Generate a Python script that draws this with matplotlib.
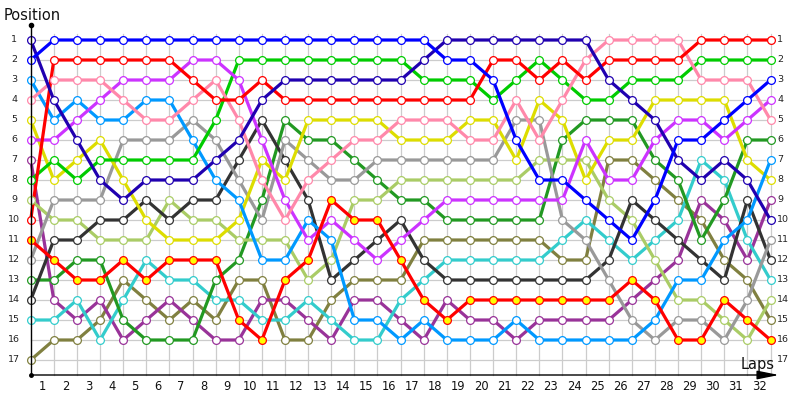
import matplotlib
matplotlib.use('Agg')
import matplotlib.pyplot as plt

# position of each driver after every lap (index 0 = grid)
laps = list(range(0, 33))
navy = [1, 4, 6, 8, 9, 8, 8, 8, 7, 6, 4, 3, 3, 3, 3, 3, 3, 2, 1, 1, 1, 1, 1, 1, 1, 3, 4, 5, 7, 8, 7, 8, 10]
blue = [2, 1, 1, 1, 1, 1, 1, 1, 1, 1, 1, 1, 1, 1, 1, 1, 1, 1, 2, 2, 3, 6, 8, 8, 9, 10, 11, 9, 6, 6, 5, 4, 3]
red = [10, 2, 2, 2, 2, 2, 2, 3, 4, 4, 3, 4, 4, 4, 4, 4, 4, 4, 4, 4, 2, 2, 3, 2, 3, 2, 2, 2, 2, 1, 1, 1, 1]
red_yellow = [11, 12, 13, 13, 12, 13, 12, 12, 12, 15, 16, 13, 12, 9, 10, 10, 12, 14, 15, 14, 14, 14, 14, 14, 14, 14, 13, 14, 16, 16, 14, 15, 16]
pink = [4, 3, 3, 3, 4, 5, 5, 4, 3, 5, 8, 10, 8, 7, 6, 6, 5, 5, 5, 6, 6, 4, 6, 4, 2, 1, 1, 1, 1, 3, 3, 3, 5]
violet = [6, 6, 5, 4, 3, 3, 3, 2, 2, 3, 6, 9, 11, 10, 11, 12, 11, 10, 9, 9, 9, 9, 9, 9, 6, 8, 8, 6, 5, 5, 6, 5, 4]
green = [8, 7, 8, 7, 7, 7, 7, 7, 5, 2, 2, 2, 2, 2, 2, 2, 2, 3, 3, 3, 4, 3, 2, 3, 4, 4, 3, 3, 3, 2, 2, 2, 2]
sky = [3, 5, 4, 5, 5, 4, 4, 6, 8, 9, 12, 12, 10, 11, 15, 15, 16, 15, 16, 16, 16, 15, 16, 16, 16, 16, 16, 15, 13, 13, 11, 10, 7]
yellow = [5, 8, 7, 6, 8, 10, 11, 11, 11, 10, 7, 8, 5, 5, 5, 5, 6, 6, 6, 5, 5, 7, 4, 5, 8, 6, 6, 4, 4, 4, 4, 7, 8]
gray = [12, 9, 9, 9, 6, 6, 6, 5, 6, 8, 10, 6, 7, 8, 8, 7, 7, 7, 7, 7, 7, 5, 5, 10, 11, 13, 15, 16, 15, 15, 16, 14, 11]
black = [14, 11, 11, 10, 10, 9, 10, 9, 9, 7, 5, 7, 9, 13, 12, 11, 10, 12, 13, 13, 13, 13, 13, 13, 13, 12, 9, 10, 11, 12, 13, 9, 12]
light_green = [9, 10, 10, 11, 11, 11, 9, 10, 10, 11, 11, 11, 13, 12, 9, 9, 8, 8, 8, 8, 8, 8, 7, 7, 7, 9, 10, 12, 14, 14, 15, 16, 14]
dark_green = [13, 13, 12, 12, 15, 16, 16, 16, 13, 12, 9, 5, 6, 6, 7, 8, 9, 9, 10, 10, 10, 10, 10, 6, 5, 5, 5, 7, 8, 11, 9, 6, 6]
teal = [15, 15, 14, 16, 14, 12, 13, 13, 14, 14, 15, 15, 14, 15, 16, 16, 14, 13, 12, 12, 12, 12, 12, 11, 10, 11, 12, 11, 10, 7, 8, 11, 13]
olive = [17, 16, 16, 15, 13, 14, 15, 14, 15, 13, 13, 16, 16, 14, 13, 13, 13, 11, 11, 11, 11, 11, 11, 12, 12, 7, 7, 8, 9, 10, 12, 13, 15]
plum = [7, 14, 15, 14, 16, 15, 14, 15, 16, 16, 14, 14, 15, 16, 14, 14, 15, 16, 14, 15, 15, 16, 15, 15, 15, 15, 14, 13, 12, 9, 10, 12, 9]

series = [
    (olive, '#808040', 'white'),
    (plum, '#993399', 'white'),
    (teal, '#33cccc', 'white'),
    (dark_green, '#229922', 'white'),
    (light_green, '#aacc66', 'white'),
    (black, '#333333', 'white'),
    (gray, '#999999', 'white'),
    (yellow, '#dddd00', 'white'),
    (sky, '#0099ff', 'white'),
    (green, '#00cc00', 'white'),
    (violet, '#cc33ff', 'white'),
    (pink, '#ff88aa', 'white'),
    (red_yellow, '#ff0000', '#ffff00'),
    (red, '#ff0000', 'white'),
    (navy, '#2000b0', 'white'),
    (blue, '#0000ff', 'white'),
]

n_pos = 17
n_laps = 32

fig = plt.figure(figsize=(8, 4), dpi=100)
ax = fig.add_axes([0, 0, 1, 1])
# pixel mapping: lap 0 at x=30.7px, 23.12px per lap; position p at y=20+20p px
ax.set_xlim(-30.7 / 23.12, (800 - 30.7) / 23.12)
ax.set_ylim(19, -1)
ax.axis('off')

# grid
for lap in range(1, n_laps + 1):
    ax.plot([lap, lap], [0.7, 17.75], color='#cccccc', lw=0.9, zorder=1)
for p in range(1, n_pos + 1):
    ax.plot([0, n_laps], [p, p], color='#cccccc', lw=0.9, zorder=1)

for pos, col, face in series:
    ax.plot(laps, pos, color=col, lw=2.3, zorder=3, solid_joinstyle='round')
    ax.plot(laps, pos, ls='none', marker='o', ms=5.6, mfc=face, mec=col, mew=0.9, zorder=4)

# axes
ax.plot([0, 0], [0.25, 17.75], color='black', lw=1, zorder=5)
ax.annotate('', xy=((779 - 30.7) / 23.12, 17.75), xytext=(0, 17.75),
            arrowprops=dict(arrowstyle='-|>,head_length=1.1,head_width=0.22', color='black', lw=1,
                            mutation_scale=12, shrinkA=0, shrinkB=0), zorder=5)
ax.plot([0], [0.25], marker='o', ms=3, color='black', zorder=5)
ax.plot([0], [17.75], marker='o', ms=2.5, color='black', zorder=5)

# labels
for p in range(1, n_pos + 1):
    ax.text(-0.72, p, str(p), ha='center', va='center', fontsize=6.8, color='#222222')
    ax.text(32.28, p, str(p), ha='left', va='center', fontsize=6.8, color='#222222')
for lap in range(1, n_laps + 1):
    ax.text(lap - 0.5, 18.35, str(lap), ha='center', va='center', fontsize=8.3, color='#111111')

ax.text(-1.15, -0.25, 'Position', ha='left', va='center', fontsize=10.5, color='#111111')
ax.text((775 - 30.7) / 23.12, 17.2, 'Laps', ha='right', va='center', fontsize=10.5, color='#111111')

fig.savefig('out.png', dpi=100)
